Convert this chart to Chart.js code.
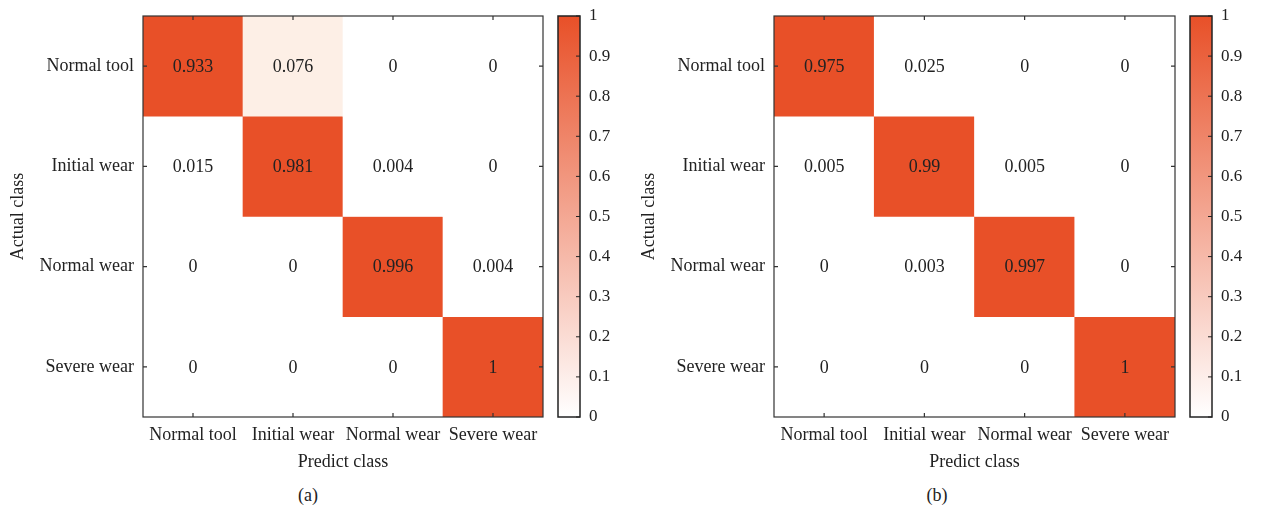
<!DOCTYPE html>
<html>
<head>
<meta charset="utf-8">
<script src="https://cdn.jsdelivr.net/npm/chart.js@4.4.1/dist/chart.umd.min.js"></script>
<style>
  body { margin: 0; background: #fff; }
  #wrap { position: relative; width: 1261px; height: 510px; }
  canvas { position: absolute; top: 0; }
  .cap { position: absolute; top: 485px; font: 18px "Liberation Serif", "DejaVu Serif", serif; color: #222; transform: translateX(-50%); }
</style>
</head>
<body>
<div id="wrap">
  <canvas id="heatA" width="560" height="480" style="left:0"></canvas>
  <canvas id="barA" width="80" height="480" style="left:550px"></canvas>
  <canvas id="heatB" width="561" height="480" style="left:631px"></canvas>
  <canvas id="barB" width="79" height="480" style="left:1182px"></canvas>
  <div class="cap" style="left:308px">(a)</div>
  <div class="cap" style="left:937px">(b)</div>
</div>
<script>
// --- Data ---
const classes = ['Normal tool', 'Initial wear', 'Normal wear', 'Severe wear'];
const matrixA = [
    [0.933, 0.076, 0, 0],
    [0.015, 0.981, 0.004, 0],
    [0, 0, 0.996, 0.004],
    [0, 0, 0, 1]
];
const matrixB = [
    [0.975, 0.025, 0, 0],
    [0.005, 0.99, 0.005, 0],
    [0, 0.003, 0.997, 0],
    [0, 0, 0, 1]
];
const colorbarTicks = [0, 0.1, 0.2, 0.3, 0.4, 0.5, 0.6, 0.7, 0.8, 0.9, 1];

const ORANGE = [232, 80, 40];
const TEXT = '#222';
Chart.defaults.font.family = '"Liberation Serif", "DejaVu Serif", serif';
Chart.defaults.font.size = 18;
Chart.defaults.color = TEXT;

// warna putih -> oranye
const mix = (t) => {
    const c = ORANGE.map(k => Math.round(255 + (k - 255) * t));
    return `rgb(${c[0]}, ${c[1]}, ${c[2]})`;
};
// peta warna sel: nilai sangat kecil tetap putih, >= 0.9 sudah penuh
const heatColor = (v) => v < 0.03 ? mix(0) : (v < 0.2 ? 'rgb(253, 239, 230)' : mix(Math.min(1, v / 0.9)));

// tulis angka di tengah tiap sel
const cellText = {
    id: 'cellText',
    afterDatasetsDraw(chart) {
        const ctx = chart.ctx;
        ctx.save();
        ctx.font = '18px "Liberation Serif", "DejaVu Serif", serif';
        ctx.fillStyle = TEXT;
        ctx.textAlign = 'center';
        ctx.textBaseline = 'middle';
        chart.data.datasets.forEach((ds, di) => {
            chart.getDatasetMeta(di).data.forEach((el, i) => {
                ctx.fillText(String(ds.values[i]), el.x, (el.y + el.base) / 2 + 1);
            });
        });
        ctx.restore();
    }
};

// bingkai + tick ke dalam
const frameTicks = {
    id: 'frameTicks',
    afterDraw(chart) {
        const { ctx, chartArea: a } = chart;
        const xs = chart.scales.x, ys = chart.scales.y;
        const len = 4;
        ctx.save();
        ctx.strokeStyle = '#333';
        ctx.lineWidth = 1.2;
        ctx.strokeRect(a.left, a.top, a.right - a.left, a.bottom - a.top);
        ctx.beginPath();
        classes.forEach((c, i) => {
            const x = xs.getPixelForValue(i);
            ctx.moveTo(x, a.top); ctx.lineTo(x, a.top + len);
            ctx.moveTo(x, a.bottom); ctx.lineTo(x, a.bottom - len);
            const y = ys.getPixelForValue(i + 0.5);
            ctx.moveTo(a.left, y); ctx.lineTo(a.left + len, y);
            ctx.moveTo(a.right, y); ctx.lineTo(a.right - len, y);
        });
        ctx.stroke();
        ctx.restore();
    }
};

const makeHeatmap = (id, matrix) => {
    new Chart(document.getElementById(id), {
        type: 'bar',
        data: {
            labels: classes,
            datasets: matrix.map((row, r) => ({
                data: row.map(() => [r, r + 1]),
                values: row,
                backgroundColor: row.map(heatColor),
                borderWidth: 0,
                barPercentage: 1,
                categoryPercentage: 1,
                grouped: false
            }))
        },
        options: {
            responsive: false,
            animation: false,
            layout: { padding: { left: 0, top: 16, right: 17, bottom: 0 } },
            plugins: { legend: { display: false }, tooltip: { enabled: false } },
            scales: {
                x: {
                    grid: { display: false, drawTicks: false },
                    border: { display: false },
                    ticks: { padding: 7, maxRotation: 0, autoSkip: false },
                    title: { display: true, text: 'Predict class', padding: { top: 0, bottom: 7 } },
                    afterFit: (s) => { s.height = 63; s.paddingLeft = 0; s.paddingRight = 0; }
                },
                y: {
                    type: 'linear',
                    min: 0, max: 4,
                    reverse: true,
                    grid: { display: false, drawTicks: false },
                    border: { display: false },
                    afterBuildTicks: (s) => { s.ticks = classes.map((c, i) => ({ value: i + 0.5 })); },
                    ticks: { padding: 9, autoSkip: false, callback: (v, i) => classes[i] },
                    title: { display: true, text: 'Actual class', padding: { top: 7, bottom: 0 } },
                    afterFit: (s) => { s.width = 143; s.paddingTop = 0; s.paddingBottom = 0; }
                }
            }
        },
        plugins: [cellText, frameTicks]
    });
};

// colorbar
const cbFrame = {
    id: 'cbFrame',
    afterDraw(chart) {
        const { ctx, chartArea: a } = chart;
        const ys = chart.scales.y;
        ctx.save();
        ctx.strokeStyle = '#222';
        ctx.lineWidth = 1.5;
        ctx.strokeRect(a.left, a.top, a.right - a.left, a.bottom - a.top);
        ctx.lineWidth = 1;
        ctx.beginPath();
        colorbarTicks.forEach(v => {
            const y = ys.getPixelForValue(v);
            ctx.moveTo(a.right, y); ctx.lineTo(a.right - 4, y);
        });
        ctx.stroke();
        ctx.restore();
    }
};

const makeColorbar = (id, axisWidth) => {
    new Chart(document.getElementById(id), {
        type: 'bar',
        data: {
            labels: [''],
            datasets: [{
                data: [[0, 1]],
                backgroundColor: (c) => {
                    const a = c.chart.chartArea;
                    if (!a) return mix(0.5);
                    const g = c.chart.ctx.createLinearGradient(0, a.bottom, 0, a.top);
                    g.addColorStop(0, mix(0));
                    g.addColorStop(1, mix(1));
                    return g;
                },
                borderWidth: 0,
                barPercentage: 1,
                categoryPercentage: 1
            }]
        },
        options: {
            responsive: false,
            animation: false,
            layout: { padding: { left: 8, top: 16, right: 0, bottom: 63 } },
            plugins: { legend: { display: false }, tooltip: { enabled: false } },
            scales: {
                x: { display: false },
                y: {
                    position: 'right',
                    min: 0, max: 1,
                    grid: { display: false, drawTicks: false },
                    border: { display: false },
                    afterBuildTicks: (s) => { s.ticks = colorbarTicks.map(v => ({ value: v })); },
                    ticks: { padding: 9, font: { size: 17 }, autoSkip: false, callback: (v) => String(v) },
                    afterFit: (s) => { s.width = axisWidth; s.paddingTop = 0; s.paddingBottom = 0; }
                }
            }
        },
        plugins: [cbFrame]
    });
};

makeHeatmap('heatA', matrixA);
makeHeatmap('heatB', matrixB);
makeColorbar('barA', 50);
makeColorbar('barB', 49);
</script>
</body>
</html>
